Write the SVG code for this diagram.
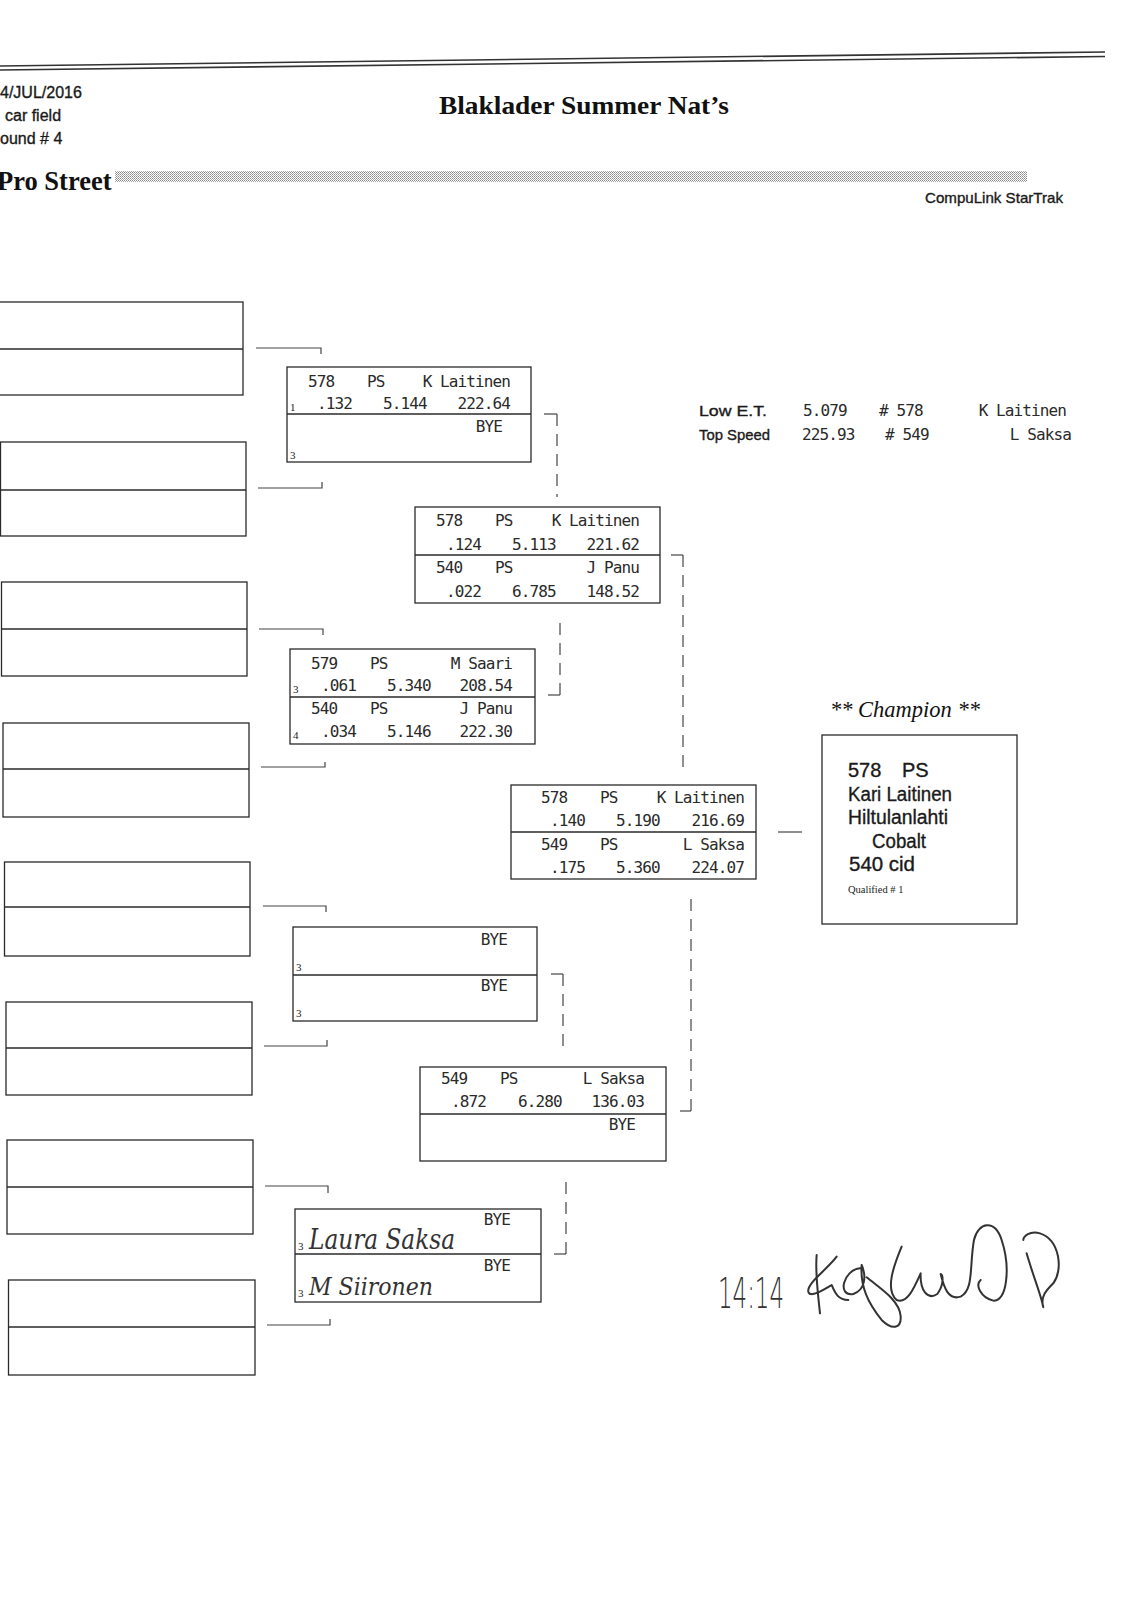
<svg xmlns="http://www.w3.org/2000/svg" width="1123" height="1600" viewBox="0 0 1123 1600">
<defs>
<pattern id="dots" width="2" height="2" patternUnits="userSpaceOnUse">
<rect width="2" height="2" fill="#fff"/>
<rect x="0" y="0" width="1" height="1" fill="#888"/>
<rect x="1" y="1" width="1" height="1" fill="#aaa"/>
</pattern>
</defs>
<style>
.box{fill:none;stroke:#2a2a2a;stroke-width:1.3}
.m{font-family:"DejaVu Sans Mono","Liberation Mono",monospace;font-size:16px;letter-spacing:-0.9px;fill:#2a2a2a}
.e{text-anchor:end}
.s{font-family:"Liberation Serif",serif;font-size:11px;fill:#222}
.sans{font-family:"Liberation Sans","DejaVu Sans",sans-serif;fill:#1a1a1a;stroke:#1a1a1a;stroke-width:0.35}
.hand{font-family:"DejaVu Serif","Liberation Serif",serif;font-style:italic;fill:#333;font-weight:normal}
.conn{fill:none;stroke:#444;stroke-width:1.2}
.dash{fill:none;stroke:#444;stroke-width:1.2;stroke-dasharray:12 8}
</style>
<rect width="1123" height="1600" fill="#fff"/>

<g id="header">
<line x1="0" y1="66" x2="1105" y2="52" stroke="#333" stroke-width="1.6"/>
<line x1="0" y1="70" x2="1105" y2="56.5" stroke="#333" stroke-width="1.6"/>
<text class="sans" x="0" y="98" font-size="16">4/JUL/2016</text>
<text class="sans" x="5" y="121" font-size="16">car field</text>
<text class="sans" x="0" y="144" font-size="16">ound # 4</text>
<text x="584" y="114" text-anchor="middle" font-family="Liberation Serif,serif" font-weight="bold" font-size="25" textLength="290" lengthAdjust="spacingAndGlyphs" fill="#111">Blaklader Summer Nat’s</text>
<text x="-3" y="190" font-family="Liberation Serif,serif" font-weight="bold" font-size="26.5" fill="#111">Pro Street</text>
<rect x="115" y="171" width="912" height="11" fill="url(#dots)"/>
<text class="sans" x="925" y="203" font-size="15" textLength="138" lengthAdjust="spacingAndGlyphs">CompuLink StarTrak</text>
</g>

<g id="stats">
<text class="sans" x="699" y="416" font-size="15" textLength="68" lengthAdjust="spacingAndGlyphs">Low   E.T.</text>
<text class="m" x="803" y="416">5.079</text>
<text class="m" x="879" y="416"># 578</text>
<text class="m e" x="1066" y="416">K Laitinen</text>
<text class="sans" x="699" y="440" font-size="15" textLength="71" lengthAdjust="spacingAndGlyphs">Top Speed</text>
<text class="m" x="802" y="440">225.93</text>
<text class="m" x="885" y="440"># 549</text>
<text class="m e" x="1071" y="440">L Saksa</text>
</g>

<g id="r1-1"><rect class="box" x="-1" y="302" width="244" height="93"/><line class="box" x1="-1" y1="349" x2="243" y2="349"/></g>
<g id="r1-2"><rect class="box" x="0.5" y="442" width="245.5" height="94"/><line class="box" x1="0.5" y1="490" x2="246" y2="490"/></g>
<g id="r1-3"><rect class="box" x="1.5" y="582" width="245.5" height="94"/><line class="box" x1="1.5" y1="629" x2="247" y2="629"/></g>
<g id="r1-4"><rect class="box" x="3" y="723" width="246" height="94"/><line class="box" x1="3" y1="769" x2="249" y2="769"/></g>
<g id="r1-5"><rect class="box" x="4.5" y="862" width="245.5" height="94"/><line class="box" x1="4.5" y1="907" x2="250" y2="907"/></g>
<g id="r1-6"><rect class="box" x="6" y="1002" width="246" height="93"/><line class="box" x1="6" y1="1048" x2="252" y2="1048"/></g>
<g id="r1-7"><rect class="box" x="7" y="1140" width="246" height="94"/><line class="box" x1="7" y1="1187" x2="253" y2="1187"/></g>
<g id="r1-8"><rect class="box" x="8.5" y="1280" width="246.5" height="95"/><line class="box" x1="8.5" y1="1327" x2="255" y2="1327"/></g>

<g id="r2-1">
<rect class="box" x="287" y="367" width="244" height="95"/><line class="box" x1="287" y1="414" x2="531" y2="414"/>
<text class="m" x="308" y="387">578</text><text class="m" x="367" y="387">PS</text><text class="m e" x="510" y="387">K Laitinen</text>
<text class="s" x="290" y="411">1</text><text class="m" x="317" y="409">.132</text><text class="m" x="383" y="409">5.144</text><text class="m e" x="510" y="409">222.64</text>
<text class="m e" x="502" y="432">BYE</text>
<text class="s" x="290" y="459">3</text>
</g>

<g id="r2-2">
<rect class="box" x="290" y="649" width="245" height="95"/><line class="box" x1="290" y1="697" x2="535" y2="697"/>
<text class="m" x="311" y="669">579</text><text class="m" x="370" y="669">PS</text><text class="m e" x="512" y="669">M Saari</text>
<text class="s" x="293" y="693">3</text><text class="m" x="321" y="691">.061</text><text class="m" x="387" y="691">5.340</text><text class="m e" x="512" y="691">208.54</text>
<text class="m" x="311" y="714">540</text><text class="m" x="370" y="714">PS</text><text class="m e" x="512" y="714">J Panu</text>
<text class="s" x="293" y="739">4</text><text class="m" x="321" y="737">.034</text><text class="m" x="387" y="737">5.146</text><text class="m e" x="512" y="737">222.30</text>
</g>

<g id="r2-3">
<rect class="box" x="293" y="927" width="244" height="94"/><line class="box" x1="293" y1="975" x2="537" y2="975"/>
<text class="m e" x="507" y="945">BYE</text>
<text class="s" x="296" y="971">3</text>
<text class="m e" x="507" y="991">BYE</text>
<text class="s" x="296" y="1017">3</text>
</g>

<g id="r2-4">
<rect class="box" x="295" y="1209" width="246" height="93"/><line class="box" x1="295" y1="1254" x2="541" y2="1254"/>
<text class="m e" x="510" y="1225">BYE</text>
<text class="s" x="298" y="1250">3</text>
<text class="hand" x="309" y="1249" font-size="27" textLength="146" lengthAdjust="spacingAndGlyphs">Laura Saksa</text>
<text class="m e" x="510" y="1271">BYE</text>
<text class="s" x="298" y="1297">3</text>
<text class="hand" x="309" y="1295" font-size="25" textLength="124" lengthAdjust="spacingAndGlyphs">M Siironen</text>
</g>

<g id="r3-1">
<rect class="box" x="415" y="507" width="245" height="96"/><line class="box" x1="415" y1="555" x2="660" y2="555"/>
<text class="m" x="436" y="526">578</text><text class="m" x="495" y="526">PS</text><text class="m e" x="639" y="526">K Laitinen</text>
<text class="m" x="446" y="550">.124</text><text class="m" x="512" y="550">5.113</text><text class="m e" x="639" y="550">221.62</text>
<text class="m" x="436" y="573">540</text><text class="m" x="495" y="573">PS</text><text class="m e" x="639" y="573">J Panu</text>
<text class="m" x="446" y="597">.022</text><text class="m" x="512" y="597">6.785</text><text class="m e" x="639" y="597">148.52</text>
</g>

<g id="r3-2">
<rect class="box" x="420" y="1067" width="246" height="94"/><line class="box" x1="420" y1="1114" x2="666" y2="1114"/>
<text class="m" x="441" y="1084">549</text><text class="m" x="500" y="1084">PS</text><text class="m e" x="644" y="1084">L Saksa</text>
<text class="m" x="451" y="1107">.872</text><text class="m" x="518" y="1107">6.280</text><text class="m e" x="644" y="1107">136.03</text>
<text class="m e" x="635" y="1130">BYE</text>
</g>

<g id="final">
<rect class="box" x="511" y="785" width="245" height="94"/><line class="box" x1="511" y1="832" x2="756" y2="832"/>
<text class="m" x="541" y="803">578</text><text class="m" x="600" y="803">PS</text><text class="m e" x="744" y="803">K Laitinen</text>
<text class="m" x="550" y="826">.140</text><text class="m" x="616" y="826">5.190</text><text class="m e" x="744" y="826">216.69</text>
<text class="m" x="541" y="850">549</text><text class="m" x="600" y="850">PS</text><text class="m e" x="744" y="850">L Saksa</text>
<text class="m" x="550" y="873">.175</text><text class="m" x="616" y="873">5.360</text><text class="m e" x="744" y="873">224.07</text>
</g>

<g id="champion">
<text x="905" y="717" text-anchor="middle" font-family="Liberation Serif,serif" font-style="italic" font-size="22.5" fill="#111">** Champion **</text>
<rect class="box" x="822" y="735" width="195" height="189"/>
<text class="sans" x="848" y="777" font-size="20">578</text>
<text class="sans" x="902" y="777" font-size="20">PS</text>
<text class="sans" x="848" y="801" font-size="20" textLength="104" lengthAdjust="spacingAndGlyphs">Kari Laitinen</text>
<text class="sans" x="848" y="824" font-size="20" textLength="100" lengthAdjust="spacingAndGlyphs">Hiltulanlahti</text>
<text class="sans" x="872" y="848" font-size="20" textLength="54" lengthAdjust="spacingAndGlyphs">Cobalt</text>
<text class="sans" x="849" y="871" font-size="20" textLength="66" lengthAdjust="spacingAndGlyphs">540 cid</text>
<text x="848" y="893" font-family="Liberation Serif,serif" font-size="10.5" fill="#222">Qualified # 1</text>
</g>

<g id="connectors">
<path class="conn" d="M256,348 H321 V354"/>
<path class="conn" d="M258,488 H322 V482"/>
<path class="conn" d="M259,629 H323 V635"/>
<path class="conn" d="M261,767 H325 V762"/>
<path class="conn" d="M263,906 H326 V912"/>
<path class="conn" d="M264,1046 H327 V1040"/>
<path class="conn" d="M265,1186 H328 V1193"/>
<path class="conn" d="M267,1325 H330 V1319"/>
<path class="conn" d="M544,414 H557"/><path class="dash" d="M557,414 V497"/>
<path class="conn" d="M548,695 H560"/><path class="dash" d="M560,695 V615"/>
<path class="conn" d="M551,974 H563"/><path class="dash" d="M563,974 V1052"/>
<path class="conn" d="M554,1254 H566"/><path class="dash" d="M566,1254 V1178"/>
<path class="conn" d="M671,555 H683"/><path class="dash" d="M683,555 V771"/>
<path class="conn" d="M680,1111 H691"/><path class="dash" d="M691,1111 V895"/>
<path class="conn" d="M778,832 H802"/>
</g>

<g id="signature">
<text x="718" y="1308" font-family="DejaVu Sans,sans-serif" font-size="42" font-weight="200" fill="#333" textLength="66" lengthAdjust="spacingAndGlyphs">14:14</text>
<g transform="translate(680,1190) scale(0.3333)" fill="none" stroke="#333" stroke-width="6" stroke-linecap="round" stroke-linejoin="round">
<path d="M410,195 C405,250 415,320 420,370"/>
<path d="M470,200 C440,240 380,280 385,305 C390,325 430,300 455,285 C465,310 475,330 505,330"/>
<path d="M540,235 C490,240 470,320 520,312 C555,300 560,260 545,225 C540,290 565,340 605,390 C635,420 665,418 662,378 C658,330 600,295 560,262"/>
<path d="M665,170 C640,230 615,300 650,330 C680,342 700,300 722,250 C720,300 742,332 772,312 C792,285 790,255 782,252 C792,292 805,332 842,320 C882,300 868,228 882,150 C895,95 945,88 965,150 C992,232 982,332 940,332 C902,322 885,285 902,270"/>
<path d="M1040,190 C1060,260 1085,320 1090,352 C1080,320 1100,300 1120,280 C1150,240 1140,150 1080,130 C1050,120 1030,140 1030,150"/>
</g>
</g>
</svg>
